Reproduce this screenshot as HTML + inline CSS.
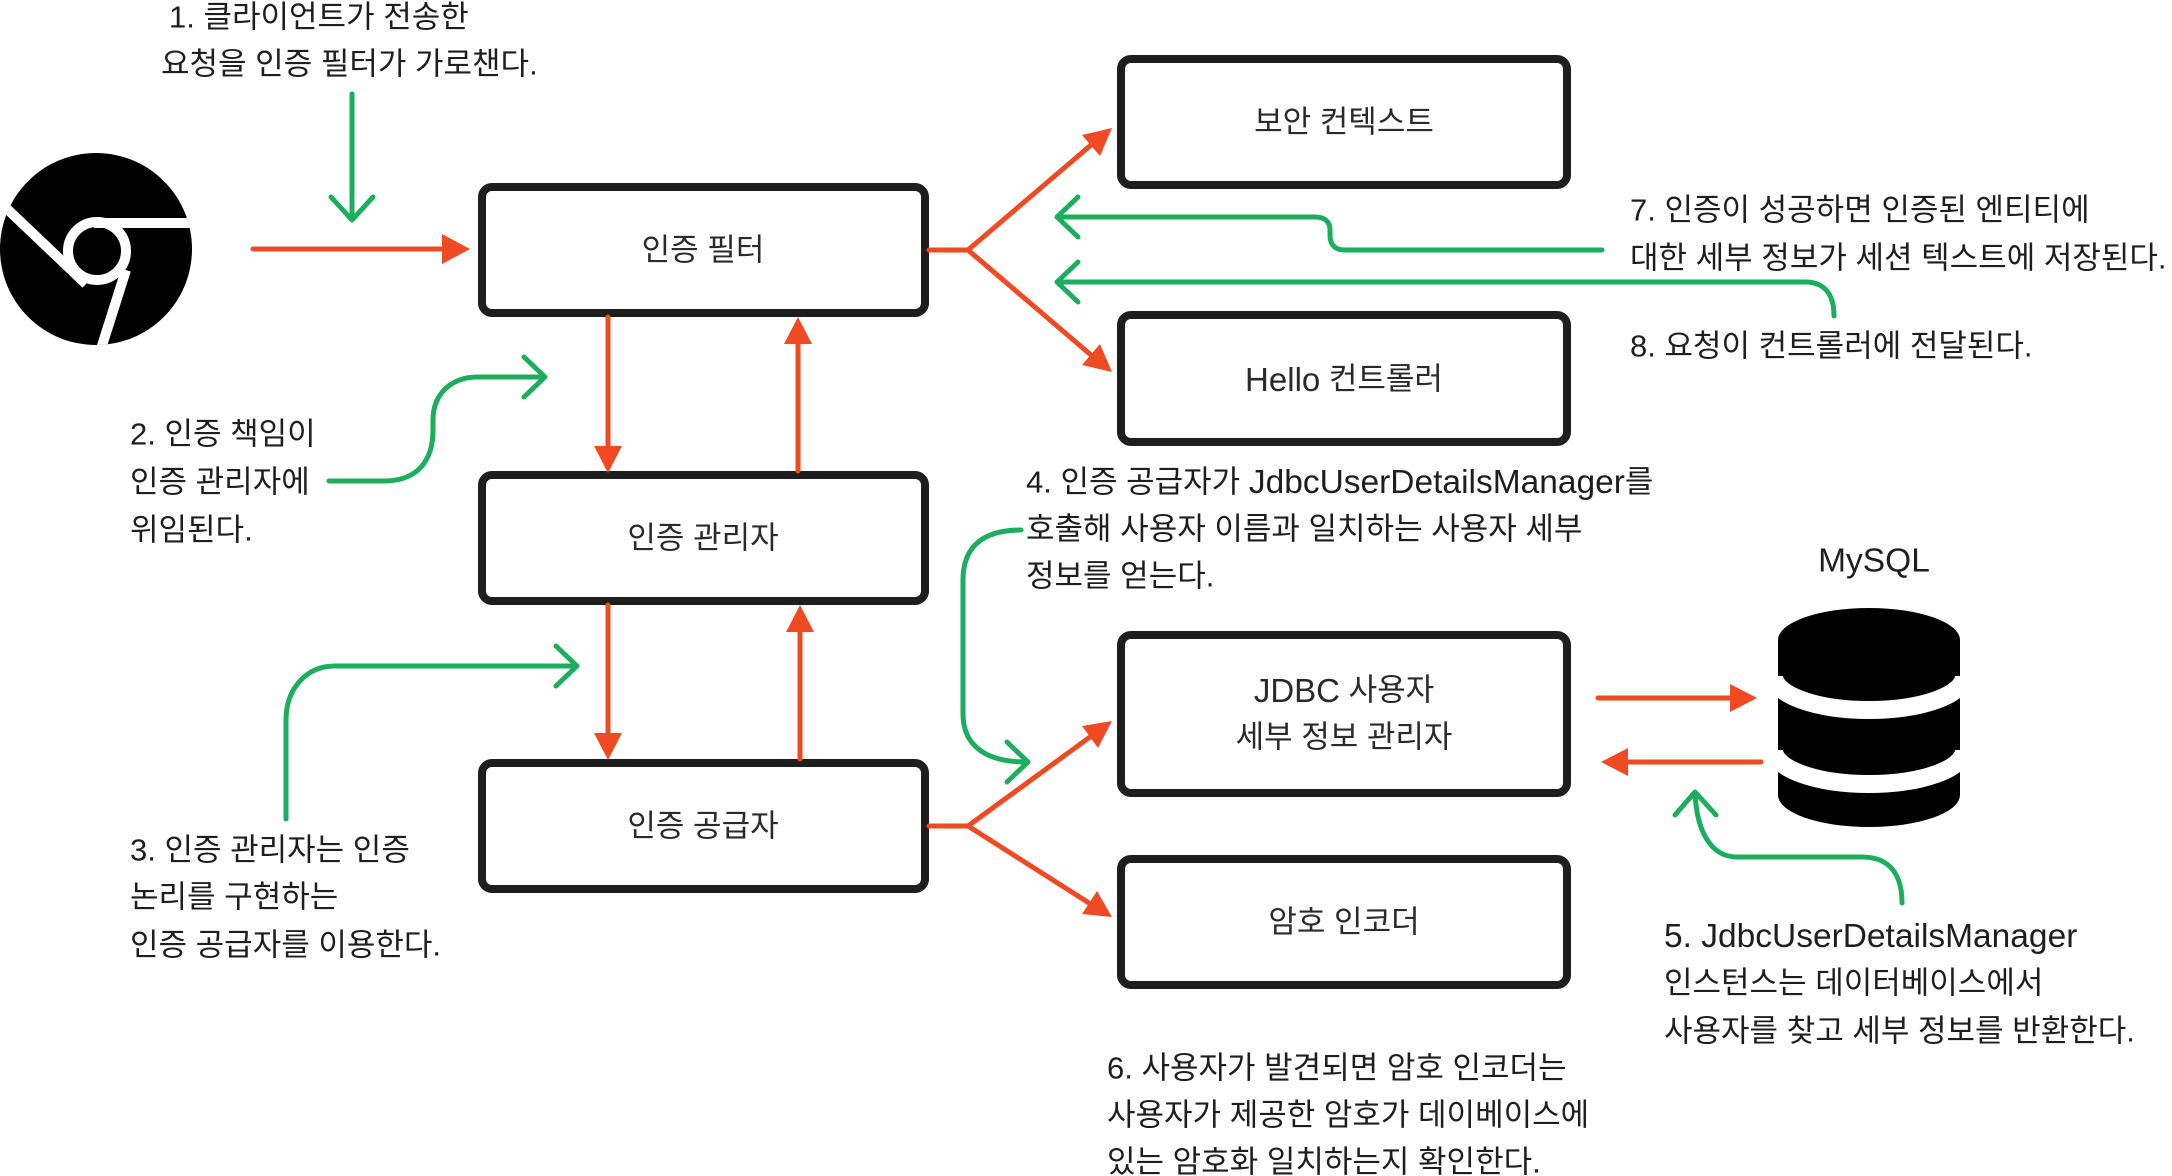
<!DOCTYPE html>
<html><head><meta charset="utf-8">
<style>
html,body{margin:0;padding:0;background:#fff;}
svg{display:block;}
text{font-family:"Liberation Sans","Noto Sans CJK KR",sans-serif;fill:#1e1e1e;}
.l{font-size:31px;}
.b{font-size:31px;fill:#2a2a2a;}
.e{font-size:33.5px;}
</style></head>
<body>
<svg width="2172" height="1176" viewBox="0 0 2172 1176" xmlns="http://www.w3.org/2000/svg">
<defs><clipPath id="cc"><circle cx="96" cy="249" r="96"/></clipPath></defs>
<circle cx="96" cy="249" r="96" fill="#000"/>
<g clip-path="url(#cc)" stroke="#fff" stroke-width="10" fill="none">
<circle cx="97" cy="251" r="29"/>
<line x1="4" y1="206" x2="86" y2="284"/>
<line x1="94" y1="223" x2="200" y2="223"/>
<line x1="126" y1="270" x2="100" y2="352"/>
</g>

<g fill="#fff" stroke="#1e1e1e" stroke-width="8">
<rect x="482" y="187" width="443" height="126" rx="10"/>
<rect x="482" y="475" width="443" height="126" rx="10"/>
<rect x="482" y="763" width="443" height="126" rx="10"/>
<rect x="1121" y="59" width="446" height="126" rx="10"/>
<rect x="1121" y="315" width="446" height="127" rx="10"/>
<rect x="1121" y="635" width="446" height="158" rx="10"/>
<rect x="1121" y="859" width="446" height="126" rx="10"/>
</g>
<g text-anchor="middle" dominant-baseline="central">
<text class="b" x="703" y="250">인증 필터</text>
<text class="b" x="703" y="538">인증 관리자</text>
<text class="b" x="703" y="826">인증 공급자</text>
<text class="b" x="1344" y="122">보안 컨텍스트</text>
<text class="b" x="1344" y="379"><tspan style="font-size:33px">Hello</tspan> 컨트롤러</text>
<text class="b" x="1344" y="690"><tspan style="font-size:33px">JDBC</tspan> 사용자</text>
<text class="b" x="1344" y="737">세부 정보 관리자</text>
<text class="b" x="1344" y="922">암호 인코더</text>
<text class="e" x="1874" y="561">MySQL</text>
</g>

<g>
<path d="M1778,640 A91,32 0 0 1 1960,640 L1960,795 A91,32 0 0 1 1778,795 Z" fill="#000"/>
<path d="M1774,676 A95,34 0 0 0 1964,676" stroke="#fff" stroke-width="18" fill="none"/>
<path d="M1774,750 A95,34 0 0 0 1964,750" stroke="#fff" stroke-width="18" fill="none"/>
</g>

<g stroke="#F04A23" stroke-width="5" fill="none" stroke-linecap="round">
<line x1="253" y1="249" x2="445" y2="249"/>
<polyline points="929,250 968,250 1091,145"/>
<line x1="968" y1="250" x2="1091" y2="355"/>
<polyline points="929,826 968,826 1090,737"/>
<line x1="968" y1="826" x2="1089" y2="903"/>
<line x1="608" y1="317" x2="608" y2="448"/>
<line x1="798" y1="471" x2="798" y2="344"/>
<line x1="608" y1="605" x2="608" y2="734"/>
<line x1="800" y1="759" x2="800" y2="632"/>
<line x1="1598" y1="698" x2="1732" y2="698"/>
<line x1="1761" y1="762" x2="1627" y2="762"/>
</g>
<g fill="#F04A23">
<polygon points="442,234 470,249 442,264"/>
<polygon points="1112,128 1100,156 1082,135"/>
<polygon points="1112,372 1082,365 1100,344"/>
<polygon points="1112,721 1098,748 1082,726"/>
<polygon points="1112,917 1082,914 1097,891"/>
<polygon points="594,446 622,446 608,473"/>
<polygon points="784,344 812,344 798,317"/>
<polygon points="594,733 622,733 608,760"/>
<polygon points="786,632 814,632 800,605"/>
<polygon points="1730,684 1757,698 1730,712"/>
<polygon points="1628,748 1601,762 1628,776"/>
</g>

<g stroke="#1BAE5E" stroke-width="5" fill="none" stroke-linecap="round" stroke-linejoin="round">
<line x1="352" y1="94" x2="352" y2="219"/>
<polyline points="331,197 352,220 373,197"/>
<path d="M329,481 L384,481 C418,481 433,460 433,430 L433,420 C433,395 450,377 478,377 L544,377"/>
<polyline points="524,357 545,377 524,397"/>
<path d="M286,819 L286,720 C286,690 305,666 335,666 L575,666"/>
<polyline points="556,646 577,666 556,686"/>
<path d="M1021,530 C985,530 963,545 963,580 L963,714 C963,745 985,762 1026,762"/>
<polyline points="1007,742 1028,762 1007,782"/>
<path d="M1602,250 L1345,250 C1335,250 1330,245 1330,235 L1330,230 C1330,222 1325,217 1315,217 L1059,217"/>
<polyline points="1078,197 1057,217 1078,237"/>
<path d="M1834,316 C1834,295 1825,282 1805,282 L1059,282"/>
<polyline points="1078,262 1057,282 1078,302"/>
<path d="M1902,903 C1902,875 1890,857 1862,857 L1737,857 C1710,857 1697,830 1695,794"/>
<polyline points="1675,815 1695,792 1716,815"/>
</g>

<g dominant-baseline="central">
<text class="l" x="169" y="17">1. 클라이언트가 전송한</text>
<text class="l" x="161" y="64">요청을 인증 필터가 가로챈다.</text>
<text class="l" x="130" y="434">2. 인증 책임이</text>
<text class="l" x="130" y="482">인증 관리자에</text>
<text class="l" x="130" y="530">위임된다.</text>
<text class="l" x="130" y="850">3. 인증 관리자는 인증</text>
<text class="l" x="130" y="897">논리를 구현하는</text>
<text class="l" x="130" y="945">인증 공급자를 이용한다.</text>
<text class="l" x="1026" y="482">4. 인증 공급자가 <tspan class="e">JdbcUserDetailsManager</tspan>를</text>
<text class="l" x="1026" y="529">호출해 사용자 이름과 일치하는 사용자 세부</text>
<text class="l" x="1026" y="576">정보를 얻는다.</text>
<text class="l" x="1630" y="210">7. 인증이 성공하면 인증된 엔티티에</text>
<text class="l" x="1630" y="258">대한 세부 정보가 세션 텍스트에 저장된다.</text>
<text class="l" x="1630" y="346">8. 요청이 컨트롤러에 전달된다.</text>
<text class="l" x="1664" y="936"><tspan class="e">5. JdbcUserDetailsManager</tspan></text>
<text class="l" x="1664" y="983">인스턴스는 데이터베이스에서</text>
<text class="l" x="1664" y="1031">사용자를 찾고 세부 정보를 반환한다.</text>
<text class="l" x="1107" y="1068">6. 사용자가 발견되면 암호 인코더는</text>
<text class="l" x="1107" y="1115">사용자가 제공한 암호가 데이베이스에</text>
<text class="l" x="1107" y="1162">있는 암호화 일치하는지 확인한다.</text>
</g>
</svg>
</body></html>
